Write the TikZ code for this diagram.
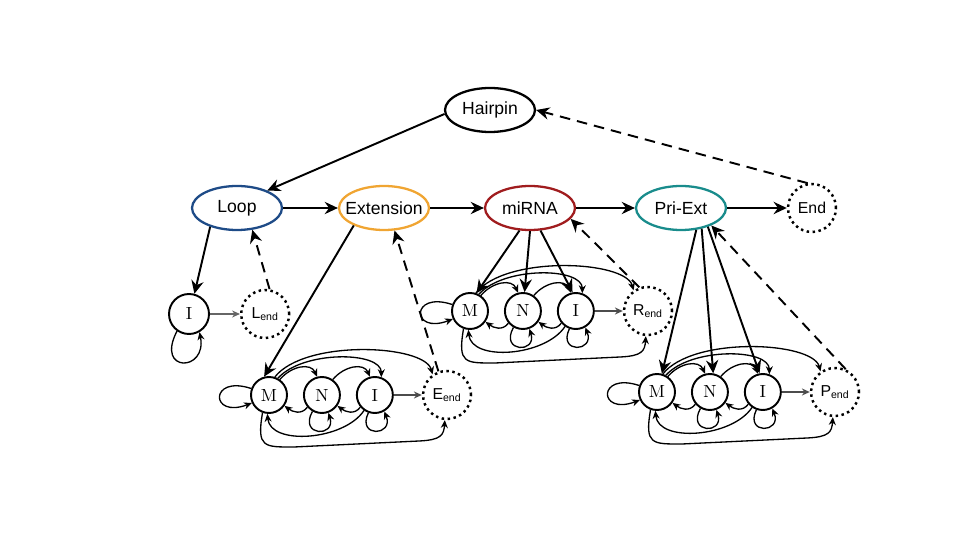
\documentclass[tikz,border=0pt]{standalone}
\usepackage{fontspec}
\setsansfont{Liberation Sans}
\usetikzlibrary{arrows.meta,positioning,shapes.geometric}

\definecolor{loopblue}{RGB}{30,75,135}
\definecolor{extorange}{RGB}{240,165,50}
\definecolor{mirred}{RGB}{160,28,30}
\definecolor{priteal}{RGB}{25,140,140}

\begin{document}
\begin{tikzpicture}[
  x=0.02cm, y=-0.02cm,
  font=\sffamily,
  part/.style={ellipse, draw, line width=1.3pt, minimum width=1.8cm,
               minimum height=0.88cm, inner xsep=-8pt, inner ysep=0pt},
  st/.style={circle, draw, line width=1.1pt, minimum size=0.72cm,
             inner sep=0pt, font=\rmfamily},
  fin/.style={circle, draw, dotted, line width=1.4pt, minimum size=0.96cm,
              inner sep=0pt, font=\sffamily\small},
  arr/.style={-{Stealth[length=7.5pt,width=7pt,inset=2.5pt]}, line width=1.1pt},
  back/.style={arr, dash pattern=on 6pt off 4pt},
  sarr/.style={-{Stealth[length=4.5pt,width=4pt]}, line width=0.75pt},
]
\useasboundingbox (0,0) rectangle (960,540);

% ---- sub-model row: #1 id #2 x #3 y #4 end label ----
\newcommand{\hmmrow}[4]{%
  \node[st] (#1-M) at (#2,#3) {M};
  \node[st,right=0.3cm of #1-M] (#1-N) {N};
  \node[st,right=0.3cm of #1-N] (#1-I) {I};
  \node[fin,right=0.56cm of #1-I] (#1-E) {#4};
  % over the row
  \draw[sarr] (#1-M.160) .. controls +(-42,-14) and +(-42,16) .. (#1-M.205);
  \draw[sarr] (#1-M.55) .. controls +(12,-14) and +(-6,-14) .. (#1-N.105);
  \draw[sarr] (#1-N.55) .. controls +(12,-14) and +(-6,-14) .. (#1-I.105);
  \draw[sarr] (#1-M.62) .. controls +(25,-28) and +(0,-26) .. (#1-I.70);
  \draw[sarr] (#1-M.72) .. controls +(30,-38) and +(-8,-30) .. (#1-E.125);
  % under the row
  \draw[sarr] (#1-N.220) .. controls +(-6,8) and +(8,6) .. (#1-M.-35);
  \draw[sarr] (#1-I.220) .. controls +(-6,8) and +(8,6) .. (#1-N.-35);
  \draw[sarr] (#1-N.240) .. controls +(-14,25) and +(8,25) .. (#1-N.290);
  \draw[sarr] (#1-I.250) .. controls +(-12,25) and +(10,25) .. (#1-I.300);
  \draw[sarr] (#1-I.235) .. controls +(-20,30) and +(3,32) .. (#1-M.265);
  \draw[sarr] (#1-M.250) .. controls +(-6,35) and +(-30,0) .. ({#2+25},{#3+52})
    -- ({#2+150},{#3+46}) .. controls +(22,-1) and +(-1,15) .. (#1-E.-95);
  \draw[sarr, black!70] (#1-I) -- (#1-E);
}

% ---- top level ----
\node[part] (hairpin) at (490,110) {Hairpin};
\node[part, draw=loopblue] (loop) at (237,208) {Loop};
\node[part, draw=extorange] (ext) at (384,208) {Extension};
\node[part, draw=mirred] (mirna) at (530,208) {miRNA};
\node[part, draw=priteal] (priext) at (681,208) {Pri-Ext};
\node[fin] (end) at (812,208) {End};

% ---- loop ----
\node[st, minimum size=0.8cm] (lp-I) at (189,314) {I};
\node[fin, right=0.6cm of lp-I] (lp-E) {L\textsubscript{end}};
\draw[sarr, black!60] (lp-I) -- (lp-E);
\draw[sarr] (lp-I.235) .. controls +(-22,42) and +(8,40) .. (lp-I.-60);

% ---- rows ----
\hmmrow{ex}{269}{395}{E\textsubscript{end}}
\hmmrow{mi}{470}{311}{R\textsubscript{end}}
\hmmrow{pe}{657}{392}{P\textsubscript{end}}

% ---- edges ----
\draw[arr] (hairpin.185) -- (loop.30);
\draw[arr] (loop) -- (ext);
\draw[arr] (ext) -- (mirna);
\draw[arr] (mirna) -- (priext);
\draw[arr] (priext) -- (end);
\draw[back] (end.100) -- (hairpin.east);

\draw[arr] (loop.215) -- (lp-I.75);
\draw[back] (lp-E.80) -- (loop.-55);

\draw[arr] (ext.210) -- (ex-M.105);
\draw[back] (ex-E.110) -- (ext.-65);

\draw[arr] (mirna.245) -- (mi-M.70);
\draw[arr] (mirna.270) -- (mi-N.85);
\draw[arr] (mirna.295) -- (mi-I.100);
\draw[back] (mi-E.110) -- (mirna.-15);

\draw[arr] (priext.305) -- (pe-M.75);
\draw[arr] (priext.315) -- (pe-N.80);
\draw[arr] (priext.325) -- (pe-I.100);
\draw[back] (pe-E.65) -- (priext.-30);
\end{tikzpicture}
\end{document}
